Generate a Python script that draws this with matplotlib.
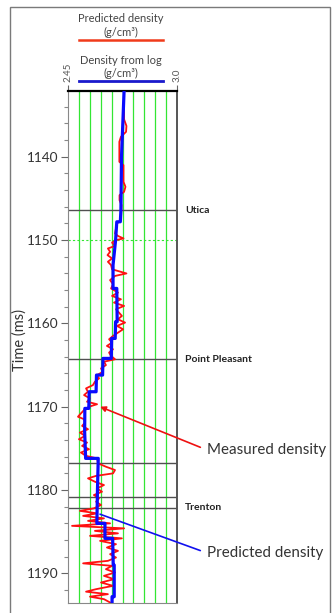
import matplotlib
matplotlib.use("Agg")
import matplotlib.pyplot as plt
from matplotlib.lines import Line2D
from matplotlib.patches import Rectangle
from matplotlib.ticker import MultipleLocator

plt.rcParams['font.family'] = ['Lato', 'DejaVu Sans']

# ---- data ----
x_min, x_max = 2.45, 3.0
t_top, t_bottom = 1132.1, 1193.5
grid_density = [2.505, 2.56, 2.615, 2.67, 2.725, 2.78, 2.835, 2.89, 2.945]
grid_times = [1150]

# blocky curve (blue)
blue_time = [1132.1, 1140.0, 1146.4, 1147.8, 1147.8, 1150.0, 1153.0, 1155.8, 1155.8,
             1159.8, 1159.8, 1161.8, 1161.8, 1164.2, 1164.2, 1166.2, 1166.2, 1168.2,
             1168.2, 1170.2, 1170.2, 1173.0, 1176.2, 1176.2, 1180.0, 1184.0, 1184.0,
             1185.8, 1185.8, 1189.0, 1189.0, 1192.8, 1192.8, 1193.5]
blue_dens = [2.733, 2.720, 2.717, 2.714, 2.696, 2.690, 2.677, 2.677, 2.696,
             2.698, 2.690, 2.688, 2.670, 2.668, 2.626, 2.624, 2.593, 2.591,
             2.556, 2.554, 2.534, 2.533, 2.538, 2.602, 2.598, 2.595, 2.636,
             2.636, 2.675, 2.678, 2.683, 2.683, 2.672, 2.672]

# detailed curve (red)
red_time = [1132.1, 1135.5, 1136.3, 1137.0, 1137.6, 1138.2, 1140.6, 1141.0, 1143.0, 1143.6,
            1144.2, 1144.6, 1145.2, 1145.8, 1147.6, 1148.0, 1148.6, 1149.2, 1149.5, 1149.8,
            1150.0, 1150.3, 1150.7, 1151.0, 1151.4, 1151.8, 1152.2, 1152.6, 1153.0, 1153.5,
            1154.0, 1154.3, 1154.8, 1155.3, 1155.8, 1156.3, 1156.7, 1157.1, 1157.5, 1157.9,
            1158.3, 1158.7, 1159.1, 1159.5, 1159.9, 1160.3, 1160.7, 1161.1, 1161.5, 1161.9,
            1162.3, 1162.7, 1163.1, 1163.5, 1163.9, 1164.3, 1164.6, 1165.0, 1165.4, 1165.8,
            1166.2, 1166.6, 1167.0, 1167.4, 1167.8, 1168.2, 1168.6, 1169.0, 1169.4, 1169.7,
            1170.0, 1170.4, 1170.8, 1171.2, 1171.5, 1171.9, 1172.3, 1172.7, 1173.1, 1173.5,
            1173.9, 1174.3, 1174.7, 1175.1, 1175.5, 1175.9, 1176.2, 1176.8, 1177.2, 1177.6,
            1178.0, 1178.3, 1178.6, 1179.0, 1179.4, 1179.8, 1180.2, 1180.6, 1181.0, 1181.4,
            1181.8, 1182.2, 1182.5, 1182.8, 1183.1, 1183.4, 1183.7, 1184.0, 1184.3, 1184.6,
            1184.9, 1185.2, 1185.5, 1185.8, 1186.1, 1186.5, 1186.9, 1187.3, 1187.7, 1188.1,
            1188.5, 1188.8, 1189.1, 1189.5, 1189.9, 1190.3, 1190.7, 1191.1, 1191.5, 1191.9,
            1192.2, 1192.5, 1192.8, 1193.1, 1193.5]
red_dens = [2.733, 2.733, 2.745, 2.743, 2.717, 2.709, 2.709, 2.730, 2.730, 2.740,
            2.733, 2.710, 2.710, 2.720, 2.717, 2.697, 2.692, 2.687, 2.702, 2.730,
            2.692, 2.672, 2.687, 2.651, 2.662, 2.649, 2.672, 2.651, 2.667, 2.672,
            2.745, 2.687, 2.662, 2.677, 2.667, 2.702, 2.672, 2.717, 2.682, 2.733,
            2.692, 2.707, 2.722, 2.702, 2.738, 2.697, 2.728, 2.702, 2.677, 2.657,
            2.672, 2.646, 2.677, 2.657, 2.667, 2.687, 2.631, 2.641, 2.616, 2.626,
            2.596, 2.606, 2.585, 2.575, 2.540, 2.550, 2.530, 2.560, 2.545, 2.596,
            2.555, 2.530, 2.514, 2.499, 2.530, 2.535, 2.520, 2.550, 2.509, 2.535,
            2.504, 2.545, 2.520, 2.555, 2.514, 2.540, 2.596, 2.601, 2.641, 2.687,
            2.677, 2.591, 2.550, 2.585, 2.631, 2.596, 2.621, 2.580, 2.606, 2.591,
            2.616, 2.580, 2.509, 2.596, 2.525, 2.631, 2.550, 2.662, 2.469, 2.733,
            2.585, 2.702, 2.560, 2.722, 2.611, 2.692, 2.646, 2.702, 2.662, 2.692,
            2.651, 2.525, 2.672, 2.641, 2.687, 2.631, 2.682, 2.616, 2.677, 2.591,
            2.540, 2.651, 2.560, 2.631, 2.662]

top_names = ['Utica', 'Point Pleasant', 'Trenton']
top_times = [1146.4, 1164.3, 1182.1]
extra_top_times = [1176.8, 1180.8]

tick_labels_top = ['2.45', '3.0']

# ---- figure ----
W, H = 334, 613
fig = plt.figure(figsize=(W / 100, H / 100), dpi=100)
fig.patch.set_facecolor('white')

# outer frame
fig.add_artist(Rectangle((10 / W, -0.01), 320 / W, 1 - 7 / H + 0.01,
                         transform=fig.transFigure, fill=False,
                         edgecolor='#7a7a7a', lw=1.0))

ax = fig.add_axes([68.3 / W, 1 - 602.5 / H, 108.4 / W, (602.5 - 91) / H])
ax.set_xlim(x_min, x_max)
ax.set_ylim(t_bottom, t_top)

ax.set_xticks(grid_density)
ax.tick_params(axis='x', bottom=False, labelbottom=False)
ax.grid(axis='x', color='#33e633', lw=0.9)
for t in grid_times:
    ax.axhline(t, color='#33e633', lw=0.8, ls=(0, (2, 2)), zorder=1)

for t in top_times + extra_top_times:
    ax.axhline(t, color='#505050', lw=1.0, zorder=2)

ax.plot(red_dens, red_time, color='#ff1010', lw=1.3, zorder=3)
ax.plot(blue_dens, blue_time, color='#0a0aff', lw=2.3, zorder=4)

for name, t in zip(top_names, top_times):
    ax.text(1.077, t, name, transform=ax.get_yaxis_transform(), ha='left',
            va='center', fontsize=7.5, fontweight='bold', color='#222222')

ax.yaxis.set_major_locator(MultipleLocator(10))
ax.yaxis.set_minor_locator(MultipleLocator(2))
ax.tick_params(axis='y', which='major', length=5, width=0.8, color='#666666',
               labelsize=9.8, labelcolor='#333333', pad=2)
ax.tick_params(axis='y', which='minor', length=3, width=0.8, color='#888888')

ax.spines['top'].set_color('black')
ax.spines['top'].set_linewidth(1.6)
ax.spines['right'].set_color('#555555')
ax.spines['right'].set_linewidth(1.4)
ax.spines['left'].set_color('#888888')
ax.spines['bottom'].set_color('#888888')

sec = ax.secondary_xaxis('top')
sec.set_xticks([x_min, x_max])
sec.set_xticklabels(tick_labels_top, rotation=90, fontsize=7, color='#555555')
sec.tick_params(length=4.5, width=0.8, color='#666666', pad=2)
sec.spines['top'].set_visible(False)

fig.text(20 / W, 1 - 340 / H, 'Time (ms)', rotation=90, ha='center', va='center',
         fontsize=10.5, color='#333333')

# header legend
cx = 121 / W
fs_leg = 8
fig.text(cx, 1 - 18 / H, 'Predicted density', ha='center', va='center', fontsize=fs_leg, color='#444444')
fig.text(cx, 1 - 32 / H, '(g/cm³)', ha='center', va='center', fontsize=fs_leg, color='#444444')
fig.add_artist(Line2D([79 / W, 163 / W], [1 - 40 / H] * 2, color='#f03a1a', lw=1.8))
fig.text(cx, 1 - 60 / H, 'Density from log', ha='center', va='center', fontsize=fs_leg, color='#444444')
fig.text(cx, 1 - 73 / H, '(g/cm³)', ha='center', va='center', fontsize=fs_leg, color='#444444')
fig.add_artist(Line2D([79 / W, 163 / W], [1 - 81 / H] * 2, color='#1a1acc', lw=2.0))

ax.annotate('Measured density', xy=(2.611, 1170.0), xytext=(207, H - 450),
            textcoords='figure pixels', ha='left', va='center', fontsize=10.9,
            color='#333333', annotation_clip=False,
            arrowprops=dict(arrowstyle='-|>', color='#ee1111', lw=1.2,
                            relpos=(0, 0.5), shrinkA=3, shrinkB=0,
                            mutation_scale=8))
ax.annotate('Predicted density', xy=(2.611, 1182.9), xytext=(207, H - 553),
            textcoords='figure pixels', ha='left', va='center', fontsize=10.9,
            color='#333333', annotation_clip=False,
            arrowprops=dict(arrowstyle='-', color='#1111ee', lw=1.2,
                            relpos=(0, 0.5), shrinkA=3, shrinkB=0))

fig.savefig('out.png', dpi=100)
